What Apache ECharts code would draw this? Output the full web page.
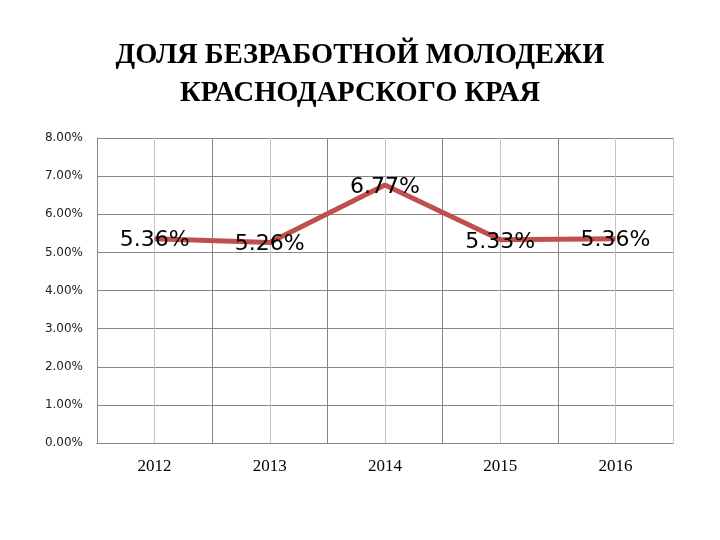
<!DOCTYPE html>
<html>
<head>
<meta charset="utf-8">
<script src="https://cdn.jsdelivr.net/npm/echarts@6/dist/echarts.min.js"></script>
<style>
    html, body { margin: 0; padding: 0; background: #fff; }
    #chart { width: 720px; height: 540px; }
</style>
</head>
<body>
<div id="chart"></div>
<script>
// данные графика
const years = ['2012', '2013', '2014', '2015', '2016'];
const shares = [5.36, 5.26, 6.77, 5.33, 5.36];
const halfSlots = ['', '', '', '', '', '', '', '', '', ''];

var chartDom = document.getElementById('chart');
var myChart = echarts.init(chartDom);
var option;

option = {
    backgroundColor: '#fff',
    animation: false,
    title: {
        text: 'ДОЛЯ БЕЗРАБОТНОЙ МОЛОДЕЖИ\nКРАСНОДАРСКОГО КРАЯ',
        left: 'center',
        top: 32,
        textStyle: {
            fontFamily: 'Liberation Serif',
            fontWeight: 'bold',
            fontSize: 28.5,
            lineHeight: 38,
            color: '#000'
        }
    },
    grid: {
        left: 97,
        right: 47,
        top: 138,
        bottom: 97
    },
    xAxis: [
        {
            type: 'category',
            data: years,
            boundaryGap: true,
            axisLine: { lineStyle: { color: '#868686' } },
            axisTick: { show: false },
            axisLabel: {
                fontFamily: 'Liberation Serif',
                fontSize: 17,
                color: '#000',
                margin: 15
            },
            splitLine: { show: true, lineStyle: { color: '#868686' } }
        },
        {
            // светлые линии посередине категорий
            type: 'category',
            data: halfSlots,
            position: 'bottom',
            boundaryGap: true,
            axisLine: { show: false },
            axisTick: { show: false },
            axisLabel: { show: false },
            splitLine: {
                show: true,
                interval: function (index) { return index % 2 === 1; },
                lineStyle: { color: '#c4c4c4' }
            }
        }
    ],
    yAxis: {
        type: 'value',
        min: 0,
        max: 8,
        interval: 1,
        axisLine: { show: true, lineStyle: { color: '#868686' } },
        axisTick: { show: false },
        axisLabel: {
            fontFamily: 'DejaVu Sans',
            fontSize: 12,
            color: '#222',
            margin: 14,
            formatter: function (v) { return v.toFixed(2) + '%'; }
        },
        splitLine: { lineStyle: { color: '#868686' } }
    },
    series: [
        {
            type: 'line',
            data: shares,
            xAxisIndex: 0,
            symbol: 'circle',
            symbolSize: 1,
            itemStyle: { color: '#c0504d' },
            lineStyle: { color: '#c0504d', width: 5 },
            label: {
                show: true,
                position: 'inside',
                offset: [0, 2],
                fontFamily: 'DejaVu Sans',
                fontSize: 22,
                color: '#000',
                formatter: function (p) { return p.value.toFixed(2) + '%'; }
            }
        }
    ]
};

option && myChart.setOption(option);
</script>
</body>
</html>
